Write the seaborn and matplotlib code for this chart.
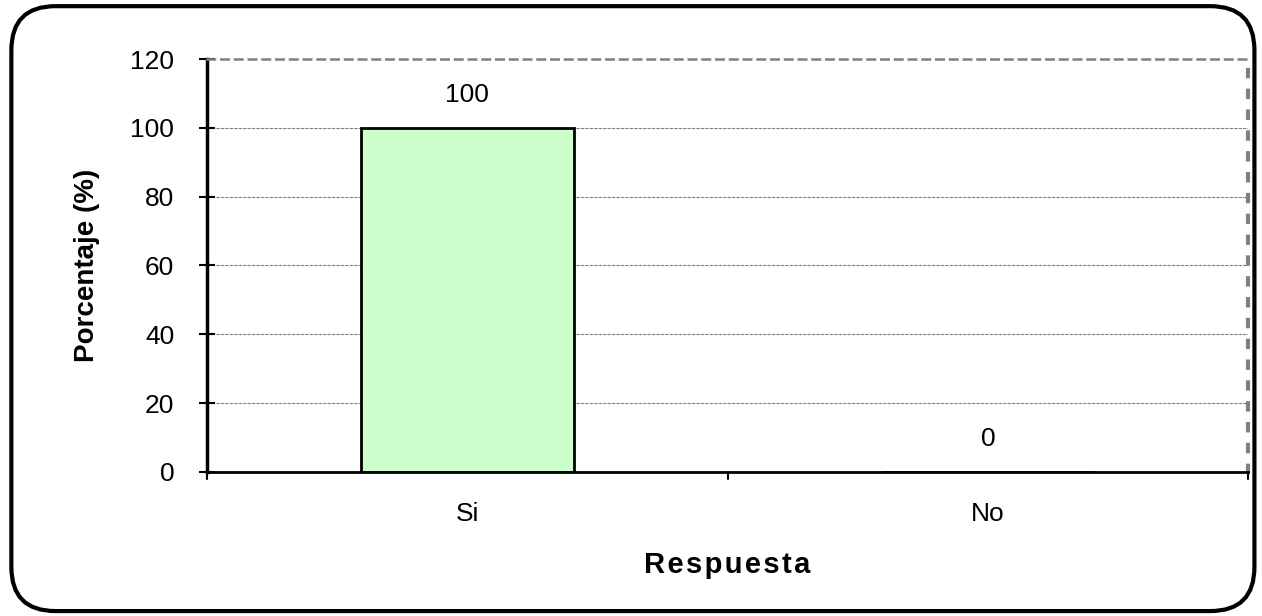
import pandas as pd
import seaborn as sns
import matplotlib.pyplot as plt
from matplotlib.patches import FancyBboxPatch

# Data
respuestas = ["Si", "No"]
porcentajes = [100, 0]
y_ticks = [0, 20, 40, 60, 80, 100, 120]

df = pd.DataFrame({"Respuesta": respuestas, "Porcentaje": porcentajes})

sns.set_style("white")
plt.rcParams['font.family'] = ['Liberation Sans', 'DejaVu Sans']
plt.rcParams['text.color'] = 'black'
plt.rcParams['axes.labelcolor'] = 'black'
plt.rcParams['xtick.color'] = 'black'
plt.rcParams['ytick.color'] = 'black'

fig = plt.figure(figsize=(12.62, 6.16), dpi=100)
ax = fig.add_axes([0.164, 0.234, 0.825, 0.670])

sns.barplot(data=df, x="Respuesta", y="Porcentaje", ax=ax,
            color="#ccffcc", edgecolor="black", linewidth=2,
            width=0.41, saturation=1)

ax.set_ylim(0, 120)
ax.set_xlim(-0.5, 1.5)
ax.set_yticks(y_ticks)
ax.tick_params(axis='y', labelsize=19, length=11, width=1.5,
               direction='inout', left=True, pad=18)
ax.tick_params(axis='x', labelsize=19, length=0, pad=22)

# gridlines
for t in y_ticks[1:-1]:
    ax.axhline(t, color='#808080', linewidth=0.8, linestyle=(0, (3, 1)),
               zorder=0)

# category boundary ticks on x axis
for xb in [-0.5, 0.5, 1.5]:
    ax.plot([xb, xb], [0, -2.2], color='black', linewidth=1.5,
            clip_on=False)

ax.spines['left'].set_color('black')
ax.spines['left'].set_linewidth(2.5)
ax.spines['bottom'].set_color('black')
ax.spines['bottom'].set_linewidth(2)
ax.spines['top'].set_color('#808080')
ax.spines['top'].set_linewidth(1.8)
ax.spines['top'].set_linestyle((0, (3, 2.5)))
ax.spines['right'].set_color('#808080')
ax.spines['right'].set_linewidth(3)
ax.spines['right'].set_linestyle((0, (1.5, 3.5)))

for i, v in enumerate(porcentajes):
    ax.text(i, v + 6, str(v), ha='center', va='bottom', fontsize=19)

ax.set_ylabel("Porcentaje (%)", fontsize=20, fontweight='bold', labelpad=22)
ax.set_xlabel("\u200a".join("Respuesta"), fontsize=21,
              fontweight='bold', labelpad=18)

# rounded frame around the figure
frame = FancyBboxPatch((0.009, 0.008), 0.985, 0.982,
                       boxstyle="round,pad=0,rounding_size=0.035",
                       transform=fig.transFigure, fill=False,
                       edgecolor='black', linewidth=3,
                       mutation_aspect=1262 / 616)
fig.patches.append(frame)

plt.savefig("out.png", dpi=100)
